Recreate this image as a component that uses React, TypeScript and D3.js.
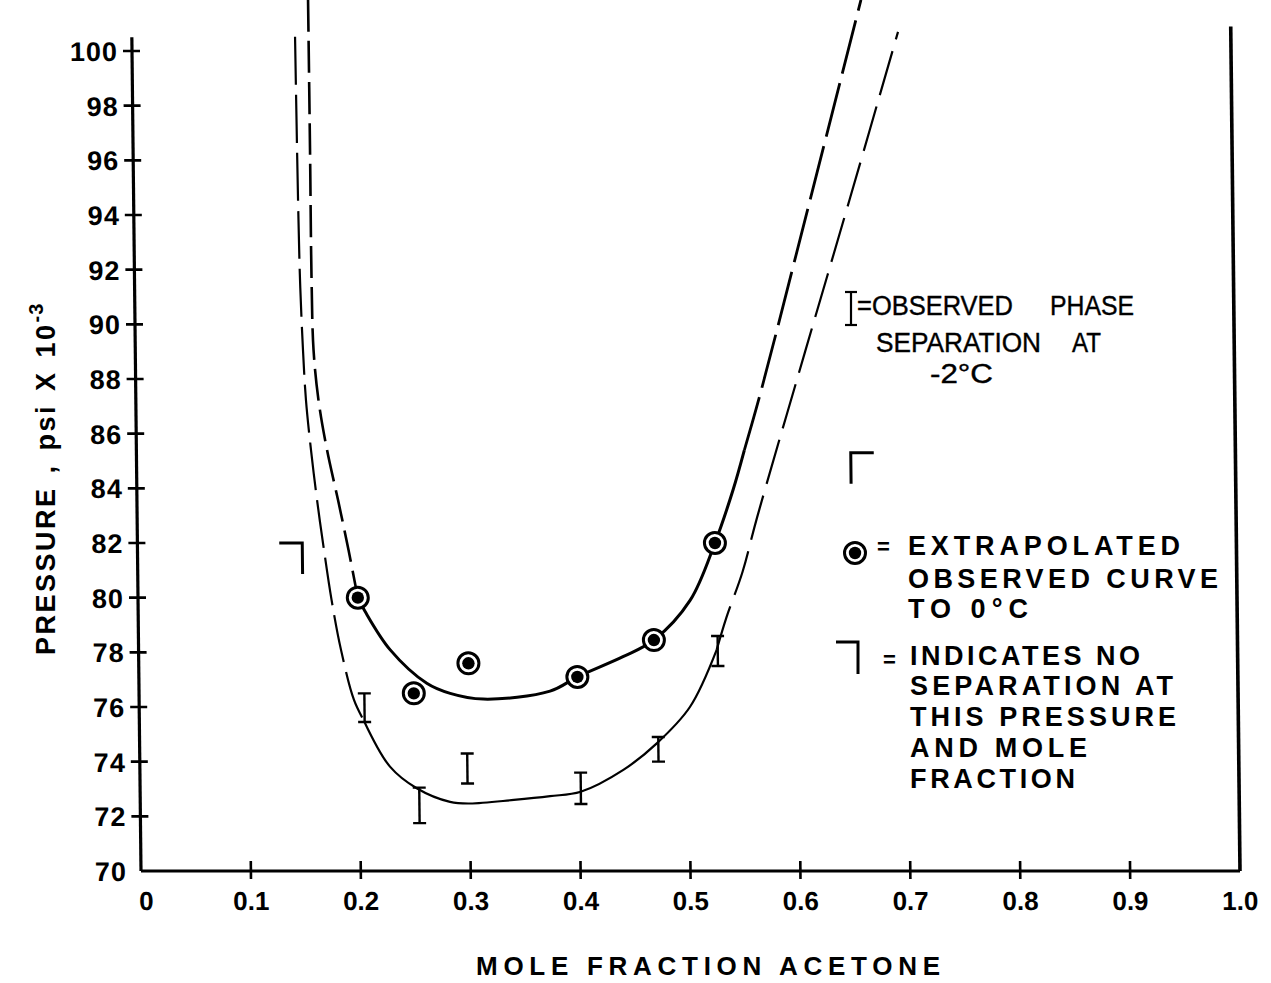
import React from 'react';
import * as d3 from 'd3';

// Axis ticks
const X_TICKS = [0, 0.1, 0.2, 0.3, 0.4, 0.5, 0.6, 0.7, 0.8, 0.9, 1.0];
const X_TICK_LABELS = ['0', '0.1', '0.2', '0.3', '0.4', '0.5', '0.6', '0.7', '0.8', '0.9', '1.0'];
const Y_TICKS = [70, 72, 74, 76, 78, 80, 82, 84, 86, 88, 90, 92, 94, 96, 98, 100];

// Observed curve extrapolated to 0 °C (circled points)
const EXTRAP_X = [0.2, 0.25, 0.3, 0.399, 0.469, 0.5255];
const EXTRAP_P = [80.0, 76.5, 77.6, 77.1, 78.45, 82.0];

// Observed phase separation at -2 °C (range bars)
const OBS_X = [0.205, 0.254, 0.298, 0.401, 0.472, 0.527];
const OBS_LOW = [75.45, 71.75, 73.2, 72.45, 74.0, 77.5];
const OBS_HIGH = [76.5, 73.05, 74.3, 73.6, 74.9, 78.6];

// No separation at this pressure and mole fraction
const NO_SEP_X = [0.15, 0.65];
const NO_SEP_P = [82.0, 85.3];

// 0 °C boundary: dashed left branch, drawn curve, dashed right branch
const UPPER_LEFT: [number, number][] = [
  [0.1607, 101.87], [0.161, 96.38], [0.1611, 91.62], [0.1622, 89.06], [0.1662, 87.23],
  [0.1735, 85.4], [0.183, 83.57], [0.192, 81.75], [0.2, 80.0],
];
const UPPER_MID: [number, number][] = [
  [0.2, 80.0], [0.2064, 79.5], [0.2288, 78.1], [0.2619, 76.87], [0.2831, 76.5],
  [0.3131, 76.29], [0.374, 76.58], [0.399, 77.1], [0.4407, 77.84], [0.469, 78.45],
  [0.5023, 79.9], [0.5255, 82.0], [0.5425, 83.94], [0.5532, 85.4],
];
const UPPER_RIGHT: [number, number][] = [
  [0.5532, 85.4], [0.568, 87.42], [0.6155, 94.55], [0.6638, 101.87],
];

// -2 °C boundary
const LOWER_LEFT: [number, number][] = [
  [0.1485, 100.52], [0.1496, 94.55], [0.1506, 91.62], [0.1526, 89.06], [0.1548, 87.23],
  [0.1589, 85.4], [0.1639, 83.57], [0.1697, 81.75], [0.1761, 79.92], [0.1842, 78.09],
  [0.1955, 76.26], [0.2044, 75.49],
];
const LOWER_MID: [number, number][] = [
  [0.2044, 75.49], [0.2276, 73.82], [0.2517, 73.03], [0.2819, 72.53], [0.3, 72.47],
  [0.34, 72.6], [0.373, 72.74], [0.4009, 72.9], [0.4399, 73.7], [0.4706, 74.67],
  [0.5011, 76.0], [0.526, 78.09],
];
const LOWER_RIGHT: [number, number][] = [
  [0.526, 78.09], [0.5351, 79.26], [0.5503, 80.94], [0.564, 82.92], [0.6094, 88.99],
  [0.6519, 94.62], [0.6972, 100.7],
];

const W = 1271;
const H = 983;
const FONT = '"Liberation Sans", Arial, sans-serif';

// hand-drafted frame leans slightly: top of the sheet sits further left
const SKEW_K = 9 / 820;
const SKEW_DEG = (Math.atan(SKEW_K) * 180) / Math.PI;

export default function App() {
  const x = d3.scaleLinear().domain([0, 1]).range([141, 1240]);
  const y = d3.scaleLinear().domain([70, 100]).range([871, 51]);
  const line = d3
    .line<[number, number]>()
    .x((d) => x(d[0]))
    .y((d) => y(d[1]))
    .curve(d3.curveCatmullRom.alpha(0.5));

  const y0 = y(70);
  const skew = `translate(${-y0 * SKEW_K},0) skewX(${SKEW_DEG})`;

  const bar = (cx: number, top: number, bottom: number, key: string | number, w = 13, sw = 2.4) => (
    <g key={key} stroke="#000" strokeWidth={sw} fill="none">
      <line x1={cx} x2={cx} y1={top} y2={bottom} />
      <line x1={cx - w / 2} x2={cx + w / 2} y1={top} y2={top} />
      <line x1={cx - w / 2} x2={cx + w / 2} y1={bottom} y2={bottom} />
    </g>
  );

  const ring = (cx: number, cy: number, key: string | number) => (
    <g key={key}>
      <circle cx={cx} cy={cy} r={10.5} fill="#fff" stroke="#000" strokeWidth={3} />
      <circle cx={cx} cy={cy} r={6.2} fill="#000" />
    </g>
  );

  const boldText = {
    fontFamily: FONT,
    fontWeight: 700,
    fontSize: 27,
    fill: '#000',
  } as const;

  return (
    <svg
      width={W}
      height={H}
      viewBox={`0 0 ${W} ${H}`}
      style={{ position: 'absolute', left: 0, top: 0, background: '#fff' }}
    >
      <rect x={0} y={0} width={W} height={H} fill="#fff" />
      <g transform={skew}>
        {/* frame */}
        <line x1={x(0)} x2={x(0)} y1={y(100.5)} y2={y0} stroke="#000" strokeWidth={3.2} />
        <line x1={x(0)} x2={x(1)} y1={y0} y2={y0} stroke="#000" strokeWidth={3.2} />
        <line x1={x(1)} x2={x(1)} y1={y(100.9)} y2={y0} stroke="#000" strokeWidth={3.6} />

        {/* x ticks and labels */}
        {X_TICKS.map((t, i) => (
          <g key={`xt${i}`}>
            {t > 0 && t < 1 && (
              <line x1={x(t)} x2={x(t)} y1={y0 - 10} y2={y0 + 8} stroke="#000" strokeWidth={2.6} />
            )}
            <text x={x(t) + (t === 0 ? 5 : 0)} y={910} textAnchor="middle" {...boldText} fontSize={26}>
              {X_TICK_LABELS[i]}
            </text>
          </g>
        ))}

        {/* y ticks and labels */}
        {Y_TICKS.map((t) => (
          <g key={`yt${t}`}>
            {t > 70 && (
              <line x1={x(0) - 9} x2={x(0) + 8} y1={y(t)} y2={y(t)} stroke="#000" strokeWidth={2.6} />
            )}
            <text x={x(0) - 14} y={y(t) + 10} textAnchor="end" {...boldText} fontSize={27} letterSpacing={1}>
              {t}
            </text>
          </g>
        ))}

        {/* boundary curves */}
        <path d={line(UPPER_LEFT) ?? ''} fill="none" stroke="#000" strokeWidth={2.6} strokeDasharray="32 9" />
        <path d={line(UPPER_MID) ?? ''} fill="none" stroke="#000" strokeWidth={3} />
        <path d={line(UPPER_RIGHT) ?? ''} fill="none" stroke="#000" strokeWidth={2.8} strokeDasharray="55 10" />
        <path d={line(LOWER_LEFT) ?? ''} fill="none" stroke="#000" strokeWidth={2.2} strokeDasharray="48 10" />
        <path d={line(LOWER_MID) ?? ''} fill="none" stroke="#000" strokeWidth={2.2} />
        <path d={line(LOWER_RIGHT) ?? ''} fill="none" stroke="#000" strokeWidth={2.2} strokeDasharray="46 12" />

        {/* observed separation ranges */}
        {OBS_X.map((v, i) => bar(x(v), y(OBS_HIGH[i]), y(OBS_LOW[i]), `ob${i}`))}

        {/* extrapolated points */}
        {EXTRAP_X.map((v, i) => ring(x(v), y(EXTRAP_P[i]), `ex${i}`))}

        {/* no-separation marks */}
        {NO_SEP_X.map((v, i) => {
          const cx = x(v);
          const cy = y(NO_SEP_P[i]);
          const dir = v < 0.4 ? -1 : 1;
          return (
            <path
              key={`ns${i}`}
              d={`M${cx + dir * 23},${cy} L${cx},${cy} L${cx},${cy + 31}`}
              fill="none"
              stroke="#000"
              strokeWidth={3}
            />
          );
        })}
      </g>

      {/* axis titles */}
      <text x={476} y={975} {...boldText} fontSize={26} textLength={464} lengthAdjust="spacing">
        MOLE FRACTION ACETONE
      </text>
      <text transform="translate(55,655) rotate(-90)" {...boldText} letterSpacing={2.5} wordSpacing={3}>
        <tspan>PRESSURE , psi X 10</tspan>
        <tspan dy={-12} fontSize={20} letterSpacing={1}>
          -3
        </tspan>
      </text>

      {/* legend: observed separation */}
      {bar(851, 292, 325, 'lg1', 12, 2.2)}
      <g fontFamily={FONT} fontSize={27} fill="#000" stroke="#000" strokeWidth={0.4}>
        <text x={857} y={315} textLength={156} lengthAdjust="spacingAndGlyphs">=OBSERVED</text>
        <text x={1050} y={315} textLength={84} lengthAdjust="spacingAndGlyphs">PHASE</text>
        <text x={876} y={352} textLength={165} lengthAdjust="spacingAndGlyphs">SEPARATION</text>
        <text x={1072} y={352} textLength={29} lengthAdjust="spacingAndGlyphs">AT</text>
        <text x={930} y={383} textLength={63} lengthAdjust="spacingAndGlyphs">-2°C</text>
      </g>

      {/* legend: extrapolated points */}
      {ring(855, 553, 'lg2')}
      <text x={877} y={554} {...boldText} fontSize={22}>=</text>
      <g {...boldText}>
        <text x={908} y={555} textLength={272} lengthAdjust="spacing">EXTRAPOLATED</text>
        <text x={908} y={588} textLength={310} lengthAdjust="spacing">OBSERVED CURVE</text>
        <text x={908} y={618} textLength={120} lengthAdjust="spacing">TO 0°C</text>
      </g>

      {/* legend: no separation */}
      <path d="M836,642 L858,642 L858,674" fill="none" stroke="#000" strokeWidth={3} />
      <text x={883} y={667} {...boldText} fontSize={22}>=</text>
      <g {...boldText}>
        <text x={910} y={665} textLength={230} lengthAdjust="spacing">INDICATES NO</text>
        <text x={910} y={695} textLength={263} lengthAdjust="spacing">SEPARATION AT</text>
        <text x={910} y={726} textLength={266} lengthAdjust="spacing">THIS PRESSURE</text>
        <text x={910} y={757} textLength={177} lengthAdjust="spacing">AND MOLE</text>
        <text x={910} y={788} textLength={165} lengthAdjust="spacing">FRACTION</text>
      </g>
    </svg>
  );
}
